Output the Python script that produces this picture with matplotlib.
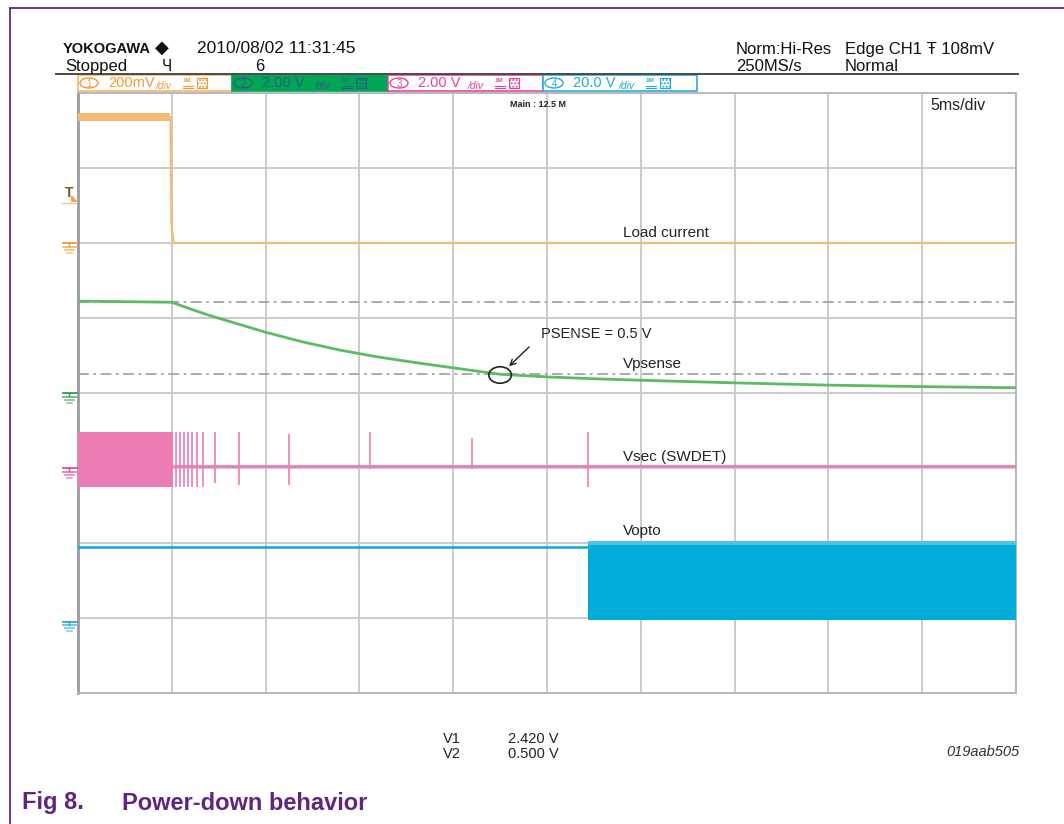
import matplotlib
matplotlib.use("Agg")
import matplotlib.pyplot as plt
from matplotlib.patches import Ellipse, Rectangle
import numpy as np

plt.rcParams['font.family'] = ['Liberation Sans', 'DejaVu Sans']

# ---- data (time in ms, values in volts) ----
# channel settings: volts/div and ground position (divisions from bottom)
ch_scale = [0.2, 2.0, 2.0, 20.0]
ch_ground = [6.0, 4.0, 3.0, 0.95]

# CH1 load current
load_t = [0.0, 4.93, 4.98, 5.1, 50.0]
load_v = [0.336, 0.336, 0.05, 0.0, 0.0]

# CH2 Vpsense
psense_t = [0, 5, 6, 7, 8, 10, 12, 14, 16, 18, 20, 22.5, 25, 27.5, 30, 35, 40, 45, 50]
psense_v = [2.45, 2.42, 2.24, 2.07, 1.92, 1.62, 1.36, 1.14, 0.96, 0.81, 0.67, 0.50,
            0.43, 0.38, 0.34, 0.27, 0.21, 0.17, 0.14]
cursor_v1 = 2.420
cursor_v2 = 0.500

# CH3 Vsec (SWDET): switching burst then isolated spikes
sec_burst_end = 5.05
sec_hi, sec_lo, sec_base = 0.96, -0.51, 0.05
spike_t = [5.22, 5.44, 5.65, 5.86, 6.08, 6.34, 6.66, 7.30, 8.58, 11.25, 15.57, 21.0, 27.19]
spike_hi = [0.96, 0.96, 0.96, 0.96, 0.96, 0.96, 0.96, 0.96, 0.96, 0.90, 0.96, 0.80, 0.96]
spike_lo = [-0.51, -0.51, -0.51, -0.51, -0.51, -0.51, -0.51, -0.40, -0.46, -0.46, -0.02, -0.02, -0.51]

# CH4 Vopto
opto_start = 27.19
opto_level = 20.0
opto_hi, opto_lo = 21.6, 0.53

# channel header boxes
box_num = ['1', '2', '3', '4']
box_val = ['200mV', '2.00 V', '2.00 V', '20.0 V']

c1, c2, c3, c4 = '#F5BB74', '#5DBB63', '#EC7DB4', '#00ADDA'


def dv(ch, v):
    return ch_ground[ch] + np.asarray(v) / ch_scale[ch]


fig = plt.figure(figsize=(10.64, 8.24), dpi=100)
W, H = 1064, 824
L, R, T, B = 78, 1016, 93, 693
ax = fig.add_axes([L / W, (H - B) / H, (R - L) / W, (B - T) / H])
ax.set_xlim(0, 50)
ax.set_ylim(0, 8)
ax.set_xticks(np.arange(0, 51, 5))
ax.set_yticks(np.arange(0, 9, 1))
ax.tick_params(length=0, labelbottom=False, labelleft=False)
ax.grid(True, color='#C6C6CE', lw=1.3)
ax.set_axisbelow(True)
for s in ax.spines.values():
    s.set_color('#B4B4BC')
    s.set_linewidth(1.3)
ax.spines['left'].set_color('#9A9AA2')
ax.spines['left'].set_linewidth(2)

# cursors
for cv in (cursor_v1, cursor_v2):
    ax.axhline(dv(1, cv), color='#A4A4AC', lw=1.3, dashes=(6, 2.5, 1.5, 2.5), zorder=2)

# CH1
ax.fill_between([0, 4.93], dv(0, 0.325), dv(0, 0.347), color=c1, lw=0, zorder=3)
ax.plot(load_t, dv(0, load_v), color=c1, lw=1.6, zorder=3)

# CH2
ax.plot(psense_t, dv(1, psense_v), color=c2, lw=2.0, zorder=4)

# CH3
ax.fill_between([0, sec_burst_end], dv(2, sec_lo), dv(2, sec_hi), color=c3, lw=0, zorder=3)
ax.plot([sec_burst_end, 50], dv(2, [sec_base, sec_base]), color=c3, lw=2.0, zorder=3)
ax.vlines(spike_t, dv(2, spike_lo), dv(2, spike_hi), color=c3, lw=1.2, zorder=3)

# CH4
ax.plot([0, opto_start], dv(3, [opto_level, opto_level]), color=c4, lw=1.8, zorder=3)
ax.fill_between([opto_start, 50], dv(3, opto_lo), dv(3, opto_hi), color=c4, lw=0, zorder=3)
ax.fill_between([opto_start, 50], dv(3, opto_level + 0.6), dv(3, opto_hi), color='#4DC4E8', lw=0, zorder=3)

# PSENSE = 0.5 V marker
ax.add_patch(Ellipse((22.5, 4.24), 1.2, 0.22, fill=False, ec='#222222', lw=1.2, zorder=6))
ax.annotate('', xy=(22.87, 4.33), xytext=(24.15, 4.64),
            arrowprops=dict(arrowstyle='->', color='#222222', lw=1.0), zorder=6)

# ---- overlay in pixel coordinates for the scope screen furniture ----
ov = fig.add_axes([0, 0, 1, 1], zorder=5)
ov.set_xlim(0, W)
ov.set_ylim(H, 0)
ov.axis('off')
ov.patch.set_alpha(0)

# page frame and caption
purple = '#5E2585'
ov.plot([10, 10], [8, H], color=purple, lw=1.3)
ov.plot([10, W], [8, 8], color=purple, lw=1.3)
ov.text(22, 803, 'Fig 8.', color=purple, fontsize=17, fontweight='bold', va='center')
ov.text(122, 803, 'Power-down behavior', color=purple, fontsize=17, fontweight='bold', va='center')

# header
ink = '#111111'
ov.text(63, 49, 'YOKOGAWA', fontsize=10.5, fontweight='bold', va='center', color=ink)
ov.text(155, 48, '◆', fontsize=13, va='center', color=ink, family=['DejaVu Sans'])
ov.text(197, 48, '2010/08/02 11:31:45', fontsize=12.5, va='center', color=ink)
ov.text(65, 66, 'Stopped', fontsize=12, va='center', color=ink)
ov.text(162, 66, 'Ч', fontsize=11, va='center', color=ink, family=['DejaVu Sans'])
ov.text(255, 66, '6', fontsize=12, va='center', color=ink)
ov.text(736, 49, 'Norm:Hi-Res', fontsize=12, va='center', color=ink)
ov.text(736, 66, '250MS/s', fontsize=12, va='center', color=ink)
ov.text(845, 49, 'Edge CH1 Ŧ 108mV', fontsize=12, va='center', color=ink)
ov.text(845, 66, 'Normal', fontsize=12, va='center', color=ink)
ov.plot([56, 1018], [73.5, 73.5], color='#4A4A4A', lw=1.4)

box_x = [(78, 232), (232, 388), (388, 543), (543, 697)]
box_ec = ['#F7B46A', '#00A651', '#E8479A', '#29ABE2']
box_fc = ['white', '#00A651', 'white', 'white']
box_tc = ['#F29A36', '#2B5C8A', '#E4449B', '#22A9E1']
div_off = [78, 83, 80, 76]
for i in range(4):
    x0, x1 = box_x[i]
    tc = box_tc[i]
    ov.add_patch(Rectangle((x0, 74.5), x1 - x0, 16.5, ec=box_ec[i], fc=box_fc[i], lw=1.2))
    ov.add_patch(Ellipse((x0 + 11, 83), 18, 10, fill=False, ec=tc, lw=1.0))
    ov.text(x0 + 11, 83.5, box_num[i], fontsize=7, color=tc, ha='center', va='center')
    ov.text(x0 + 30, 83, box_val[i], fontsize=10.5, color=tc, va='center')
    xd = x0 + div_off[i]
    ov.text(xd, 85.5, '/div', fontsize=7.5, color=tc, va='center', style='italic')
    xi = xd + 27
    ov.text(xi, 80.5, '1M', fontsize=4.5, color=tc, va='center', fontweight='bold')
    ov.plot([xi, xi + 10], [85.5, 85.5], color=tc, lw=0.8)
    ov.plot([xi, xi + 10], [87.5, 87.5], color=tc, lw=0.8)
    ov.add_patch(Rectangle((xi + 14, 78), 10, 10, ec=tc, fc='none', lw=0.8, hatch='.....'))

# ground markers and trigger level
ch_cols = ['#F29A36', '#2E9E4F', '#E4449B', '#22A9E1']
for ch in range(4):
    gy = B - ch_ground[ch] * (B - T) / 8
    c = ch_cols[ch]
    ov.plot([63, 77], [gy, gy], color=c, lw=1.3)
    ov.plot([69, 69], [gy, gy + 3], color=c, lw=1.0)
    ov.plot([63, 76], [gy + 3.5, gy + 3.5], color=c, lw=1.3, alpha=0.7)
    ov.plot([65, 74], [gy + 6.5, gy + 6.5], color=c, lw=1.3, alpha=0.6)
    ov.plot([67, 72], [gy + 9.5, gy + 9.5], color=c, lw=1.3, alpha=0.5)
ov.text(65, 193, 'T', fontsize=10, color='#7A4E1A', va='center', fontweight='bold')
ov.plot([72, 76, 72, 72], [197, 201, 201, 197], color='#F29A36', lw=1.2)
ov.plot([62, 76], [203, 203], color='#F7C48A', lw=1.0)

# on-screen labels
lab = '#222222'
ov.text(510, 104, 'Main : 12.5 M', fontsize=6.5, fontweight='bold', va='center', color=lab)
ov.text(930, 105, '5ms/div', fontsize=11.5, va='center', color=lab)
ov.text(623, 233, 'Load current', fontsize=11, va='center', color=lab)
ov.text(541, 334, 'PSENSE = 0.5 V', fontsize=10.5, va='center', color=lab)
ov.text(623, 364, 'Vpsense', fontsize=11, va='center', color=lab)
ov.text(623, 457, 'Vsec (SWDET)', fontsize=11, va='center', color=lab)
ov.text(623, 531, 'Vopto', fontsize=11, va='center', color=lab)

# cursor readout
ov.text(443, 739, 'V1', fontsize=10.5, va='center', color=lab)
ov.text(508, 739, '%.3f V' % cursor_v1, fontsize=10.5, va='center', color=lab)
ov.text(443, 754, 'V2', fontsize=10.5, va='center', color=lab)
ov.text(508, 754, '%.3f V' % cursor_v2, fontsize=10.5, va='center', color=lab)
ov.text(1019, 752, '019aab505', fontsize=10.5, style='italic', ha='right', va='center', color='#333333')

fig.savefig('out.png', dpi=100)
